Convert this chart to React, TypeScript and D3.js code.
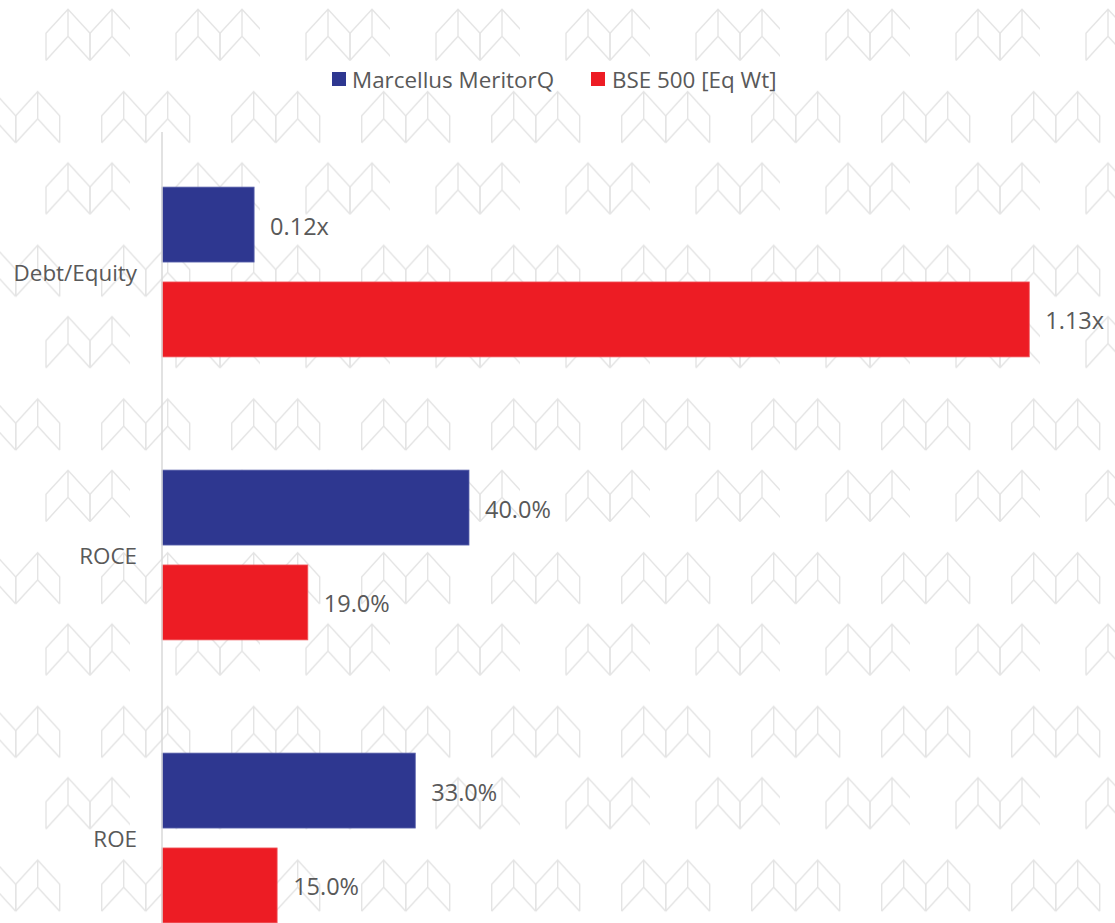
import React from "react";
import * as d3 from "d3";

const categories = ["Debt/Equity", "ROCE", "ROE"];
const seriesNames = ["Marcellus MeritorQ", "BSE 500 [Eq Wt]"];
const marcellusValues = [0.12, 0.4, 0.33];
const bseValues = [1.13, 0.19, 0.15];
const valueFormats = ["x", "%", "%"];

const W = 1115;
const H = 923;
const COLORS = ["#2E3790", "#ED1C24"];
const FONT = "'Open Sans', Roboto, sans-serif";
const TEXT = "#595959";
const FS = 22.4;
const FSV = 23.5;

function fmt(v: number, kind: string) {
  return kind === "x" ? `${v.toFixed(2)}x` : `${(v * 100).toFixed(1)}%`;
}

function Chevron({ cx, y0 }: { cx: number; y0: number }) {
  const d = [
    `M${cx - 22},${y0 + 51}V${y0 + 24}L${cx},${y0}L${cx + 22},${y0 + 24}V${y0 + 51}`,
    `M${cx - 22},${y0 + 51}L${cx},${y0 + 27}L${cx + 22},${y0 + 51}`,
    `M${cx},${y0}V${y0 + 27}`,
  ].join("");
  return <path d={d} fill="none" stroke="#E4E4E4" strokeWidth={1.4} strokeLinejoin="miter" />;
}

function Logo({ x0, y0 }: { x0: number; y0: number }) {
  return (
    <g>
      <Chevron cx={x0 + 22} y0={y0} />
      <Chevron cx={x0 + 66} y0={y0} />
    </g>
  );
}

export default function App() {
  const series = [marcellusValues, bseValues];
  const y0 = d3
    .scaleBand<string>()
    .domain(categories)
    .range([130.5, 979.5])
    .paddingInner(0.4)
    .paddingOuter(0.2);
  const y1 = d3
    .scaleBand<string>()
    .domain(seriesNames)
    .range([0, y0.bandwidth()])
    .paddingInner(0.21);
  const x = d3.scaleLinear().domain([0, 1.2]).range([162, 162 + 767.5 * 1.2]);

  return (
    <svg
      width={W}
      height={H}
      style={{ position: "absolute", left: 0, top: 0, display: "block" }}
      fontFamily={FONT}
    >
      <defs>
        <pattern id="bgpat" patternUnits="userSpaceOnUse" x={0} y={0} width={130} height={153.7}>
          <rect width={130} height={153.7} fill="#fff" />
          <Logo x0={46} y0={9.3} />
          <Logo x0={101.7} y0={91.7} />
          <Logo x0={101.7 - 130} y0={91.7} />
        </pattern>
      </defs>
      <rect width={W} height={H} fill="url(#bgpat)" />

      {/* legend */}
      <g>
        <rect x={332} y={72} width={14} height={14} fill={COLORS[0]} />
        <text x={352} y={79} dominantBaseline="central" fontSize={FS} fill={TEXT}>
          {seriesNames[0]}
        </text>
        <rect x={591} y={72} width={14} height={14} fill={COLORS[1]} />
        <text x={612} y={79} dominantBaseline="central" fontSize={FS} fill={TEXT}>
          {seriesNames[1]}
        </text>
      </g>

      {/* bars */}
      {categories.map((c, ci) => (
        <g key={c} transform={`translate(0,${y0(c)})`}>
          {seriesNames.map((s, si) => {
            const v = series[si][ci];
            const yy = y1(s)!;
            return (
              <g key={s}>
                <rect
                  x={x(0)}
                  y={yy}
                  width={x(v) - x(0)}
                  height={y1.bandwidth()}
                  fill={COLORS[si]}
                  stroke={si === 0 ? "#5c64ad" : "#f05a60"}
                  strokeWidth={0.8}
                />
                <text
                  x={x(v) + 16}
                  y={yy + y1.bandwidth() / 2 + 1}
                  dominantBaseline="central"
                  fontSize={FSV}
                  fill={TEXT}
                >
                  {fmt(v, valueFormats[ci])}
                </text>
              </g>
            );
          })}
        </g>
      ))}

      {/* axis */}
      <line x1={x(0)} x2={x(0)} y1={132} y2={H} stroke="#D9D9D9" strokeWidth={1.5} />

      {/* category labels */}
      {categories.map((c) => (
        <text
          key={c}
          x={137}
          y={y0(c)! + y0.bandwidth() / 2}
          textAnchor="end"
          dominantBaseline="central"
          fontSize={FS}
          fill={TEXT}
        >
          {c}
        </text>
      ))}
    </svg>
  );
}
